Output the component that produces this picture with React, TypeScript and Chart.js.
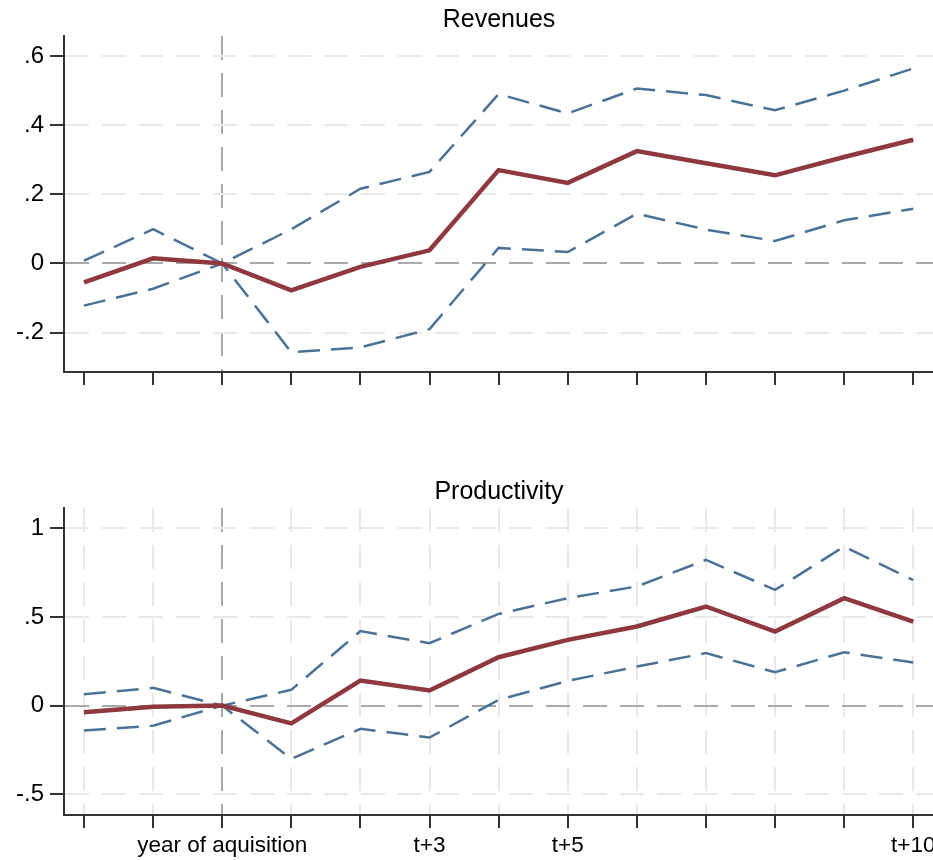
import { useEffect, useRef } from 'react';
import { Chart, registerables } from 'chart.js';

Chart.register(...registerables);

// Event time relative to the acquisition year
const periods = [-2, -1, 0, 1, 2, 3, 4, 5, 6, 7, 8, 9, 10];
const periodLabels = ['', '', 'year of aquisition', '', '', 't+3', '', 't+5', '', '', '', '', 't+10'];

// Revenues: point estimates and 95% confidence bounds
const revenueEstimate = [-0.055, 0.015, 0, -0.078, -0.01, 0.038, 0.27, 0.233, 0.325, 0.29, 0.255, 0.308, 0.358];
const revenueUpper = [0.008, 0.099, 0, 0.099, 0.216, 0.265, 0.49, 0.434, 0.506, 0.487, 0.443, 0.5, 0.564];
const revenueLower = [-0.122, -0.073, 0, -0.257, -0.243, -0.19, 0.045, 0.033, 0.144, 0.098, 0.065, 0.125, 0.158];
const revenueTicks = [-0.2, 0, 0.2, 0.4, 0.6];
const revenueTickLabels = ['-.2', '0', '.2', '.4', '.6'];

// Productivity: point estimates and 95% confidence bounds
const productivityEstimate = [-0.037, -0.006, 0, -0.1, 0.141, 0.085, 0.273, 0.371, 0.446, 0.559, 0.418, 0.606, 0.474];
const productivityUpper = [0.064, 0.1, 0, 0.089, 0.42, 0.352, 0.517, 0.606, 0.672, 0.822, 0.653, 0.897, 0.708];
const productivityLower = [-0.141, -0.113, 0, -0.3, -0.131, -0.18, 0.032, 0.139, 0.22, 0.296, 0.188, 0.301, 0.243];
const productivityTicks = [-0.5, 0, 0.5, 1];
const productivityTickLabels = ['-.5', '0', '.5', '1'];

const FONT = "'Liberation Sans', Arial, Helvetica, sans-serif";
const ESTIMATE_COLOR = '#8f3840';
const BOUND_COLOR = '#4a7296';
const GRID_COLOR = '#e9e9e9';
const REF_COLOR = '#aaaaaa';
const AXIS_COLOR = '#333333';
const CANVAS_WIDTH = 960;

type PanelSpec = {
  title: string;
  estimate: number[];
  upper: number[];
  lower: number[];
  yMin: number;
  yMax: number;
  yTicks: number[];
  yLabels: string[];
  showPeriodLabels: boolean;
  verticalGrid: boolean;
  xAxisHeight: number;
};

const toPoints = (values: number[]) => values.map((y, i) => ({ x: periods[i], y }));

function buildConfig(spec: PanelSpec): any {
  const bound = (values: number[]) => ({
    data: toPoints(values),
    borderColor: BOUND_COLOR,
    borderWidth: 2.5,
    borderDash: [22, 11],
    pointRadius: 0,
    tension: 0,
    fill: false,
  });
  return {
    type: 'line',
    data: {
      datasets: [
        {
          data: toPoints(spec.estimate),
          borderColor: ESTIMATE_COLOR,
          borderWidth: 4.5,
          pointRadius: 0,
          tension: 0,
          fill: false,
        },
        bound(spec.upper),
        bound(spec.lower),
      ],
    },
    options: {
      responsive: false,
      animation: false,
      events: [],
      layout: { padding: { top: 0, left: 0, right: 26, bottom: 0 } },
      plugins: {
        legend: { display: false },
        tooltip: { enabled: false },
        title: {
          display: true,
          text: spec.title,
          fullSize: false,
          color: '#000',
          font: { family: FONT, size: 25, weight: 'normal', lineHeight: 1.2 },
          padding: { top: 5, bottom: 1 },
        },
      },
      scales: {
        x: {
          type: 'linear',
          min: -2.289,
          max: 10.3,
          afterBuildTicks: (scale: any) => {
            scale.ticks = periods.map((value) => ({ value }));
          },
          afterFit: (scale: any) => {
            scale.height = spec.xAxisHeight;
          },
          ticks: {
            autoSkip: false,
            maxRotation: 0,
            minRotation: 0,
            padding: 4,
            color: '#000',
            font: { family: FONT, size: 22.5 },
            callback: (value: number) =>
              spec.showPeriodLabels ? periodLabels[periods.indexOf(value)] ?? '' : '',
          },
          grid: {
            drawOnChartArea: true,
            color: (ctx: any) => {
              const v = ctx.tick ? ctx.tick.value : null;
              if (v === 0) return REF_COLOR;
              return spec.verticalGrid ? GRID_COLOR : 'rgba(0,0,0,0)';
            },
            lineWidth: 2,
            tickLength: 13,
            tickColor: AXIS_COLOR,
            tickWidth: 2,
          },
          border: { display: true, color: AXIS_COLOR, width: 2, dash: [24, 13] },
        },
        y: {
          type: 'linear',
          min: spec.yMin,
          max: spec.yMax,
          afterBuildTicks: (scale: any) => {
            scale.ticks = spec.yTicks.map((value) => ({ value }));
          },
          afterFit: (scale: any) => {
            scale.width = 64;
          },
          ticks: {
            padding: 6,
            color: '#000',
            font: { family: FONT, size: 24 },
            callback: (value: number) => {
              const i = spec.yTicks.indexOf(value);
              return i >= 0 ? spec.yLabels[i] : '';
            },
          },
          grid: {
            drawOnChartArea: true,
            color: (ctx: any) => (ctx.tick && ctx.tick.value === 0 ? REF_COLOR : GRID_COLOR),
            lineWidth: 2,
            tickLength: 14,
            tickColor: AXIS_COLOR,
            tickWidth: 2,
          },
          border: { display: true, color: AXIS_COLOR, width: 2, dash: [24, 13] },
        },
      },
    },
  };
}

function Panel({ spec, top, height }: { spec: PanelSpec; top: number; height: number }) {
  const ref = useRef<HTMLCanvasElement>(null);
  useEffect(() => {
    if (!ref.current) return;
    const chart = new Chart(ref.current, buildConfig(spec));
    return () => chart.destroy();
  }, []);
  return (
    <canvas
      ref={ref}
      width={CANVAS_WIDTH}
      height={height}
      style={{ position: 'absolute', left: 0, top, width: CANVAS_WIDTH, height }}
    />
  );
}

const revenuePanel: PanelSpec = {
  title: 'Revenues',
  estimate: revenueEstimate,
  upper: revenueUpper,
  lower: revenueLower,
  yMin: -0.314,
  yMax: 0.658,
  yTicks: revenueTicks,
  yLabels: revenueTickLabels,
  showPeriodLabels: false,
  verticalGrid: false,
  xAxisHeight: 100,
};

const productivityPanel: PanelSpec = {
  title: 'Productivity',
  estimate: productivityEstimate,
  upper: productivityUpper,
  lower: productivityLower,
  yMin: -0.617,
  yMax: 1.1145,
  yTicks: productivityTicks,
  yLabels: productivityTickLabels,
  showPeriodLabels: true,
  verticalGrid: true,
  xAxisHeight: 45,
};

export default function App() {
  return (
    <div
      style={{
        position: 'fixed',
        left: 0,
        top: 0,
        width: 933,
        height: 860,
        overflow: 'hidden',
        background: '#fff',
      }}
    >
      <Panel spec={revenuePanel} top={0} height={472} />
      <Panel spec={productivityPanel} top={472} height={388} />
    </div>
  );
}
